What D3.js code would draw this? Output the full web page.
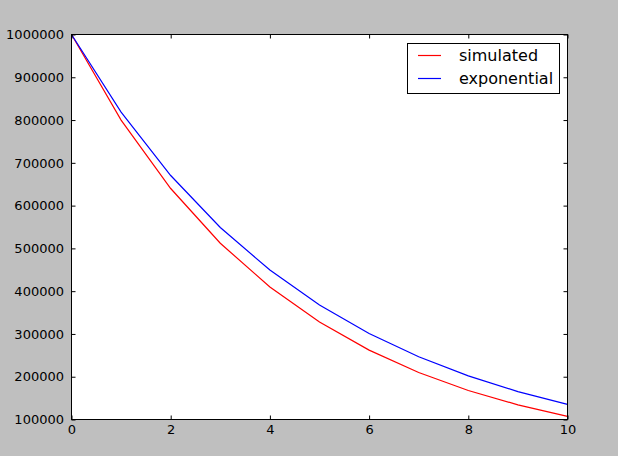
<!DOCTYPE html>
<html><head><meta charset="utf-8">
<script src="https://cdn.jsdelivr.net/npm/d3@7"></script>
<style>html,body{margin:0;padding:0;background:#bfbfbf;}svg{display:block;}</style>
</head><body>
<script>
const xs = [0,1,2,3,4,5,6,7,8,9,10];
const simulated = [1000000,800000,640000,512000,409600,327680,262144,209715,167772,134218,107374];
const exponential = [1000000,818731,670320,548812,449329,367879,301194,246597,201897,165299,135335];
const seriesNames = ["simulated","exponential"];
const seriesColors = ["#ff0000","#0000ff"];
const xTicks = [0,2,4,6,8,10];
const yTicks = [100000,200000,300000,400000,500000,600000,700000,800000,900000,1000000];

const W=618,H=456, L=71.5, R=567.5, T=34.5, B=419.5;
const svg=d3.select("body").append("svg").attr("width",W).attr("height",H);
svg.append("rect").attr("width",W).attr("height",H).attr("fill","#bfbfbf");
const x=d3.scaleLinear().domain([0,10]).range([L,R]);
const y=d3.scaleLinear().domain([100000,1000000]).range([B,T]);
svg.append("rect").attr("x",L).attr("y",T).attr("width",R-L).attr("height",B-T).attr("fill","#fff");

const font="'DejaVu Sans', sans-serif";
const series=[simulated,exponential];
const line=d3.line().x((d,i)=>x(xs[i])).y(d=>y(d));
svg.append("clipPath").attr("id","c").append("rect").attr("x",L).attr("y",T).attr("width",R-L).attr("height",B-T);
series.forEach((s,k)=>{
  svg.append("path").datum(s).attr("d",line).attr("fill","none").attr("stroke",seriesColors[k]).attr("stroke-width",1.2).attr("clip-path","url(#c)");
});

function styleAxis(g){g.select(".domain").remove();g.selectAll("text").attr("font-family",font).attr("font-size",13).attr("fill","#000");g.selectAll("line").attr("stroke","#000");}
const xb=svg.append("g").attr("transform",`translate(0,${B})`).call(d3.axisBottom(x).tickValues(xTicks).tickSize(-4).tickPadding(5).tickFormat(d3.format("d")));
styleAxis(xb);
const xt=svg.append("g").attr("transform",`translate(0,${T})`).call(d3.axisTop(x).tickValues(xTicks).tickSize(-4).tickFormat(""));
styleAxis(xt);
const yl=svg.append("g").attr("transform",`translate(${L},0)`).call(d3.axisLeft(y).tickValues(yTicks).tickSize(-4).tickPadding(7.5).tickFormat(d3.format("d")));
styleAxis(yl);
const yr=svg.append("g").attr("transform",`translate(${R},0)`).call(d3.axisRight(y).tickValues(yTicks).tickSize(-4).tickFormat(""));
styleAxis(yr);

svg.append("rect").attr("x",L).attr("y",T).attr("width",R-L).attr("height",B-T).attr("fill","none").attr("stroke","#000").attr("stroke-width",1);

const lg=svg.append("g");
lg.append("rect").attr("x",407.5).attr("y",43.5).attr("width",152).attr("height",50).attr("fill","#fff").attr("stroke","#000");
seriesNames.forEach((n,k)=>{
  const yy=55.5+k*23;
  lg.append("line").attr("x1",418).attr("x2",441).attr("y1",yy).attr("y2",yy).attr("stroke",seriesColors[k]).attr("stroke-width",1.2);
  lg.append("text").attr("x",459).attr("y",yy).attr("dy","0.35em").attr("font-family",font).attr("font-size",16).text(n);
});
</script>
</body></html>
